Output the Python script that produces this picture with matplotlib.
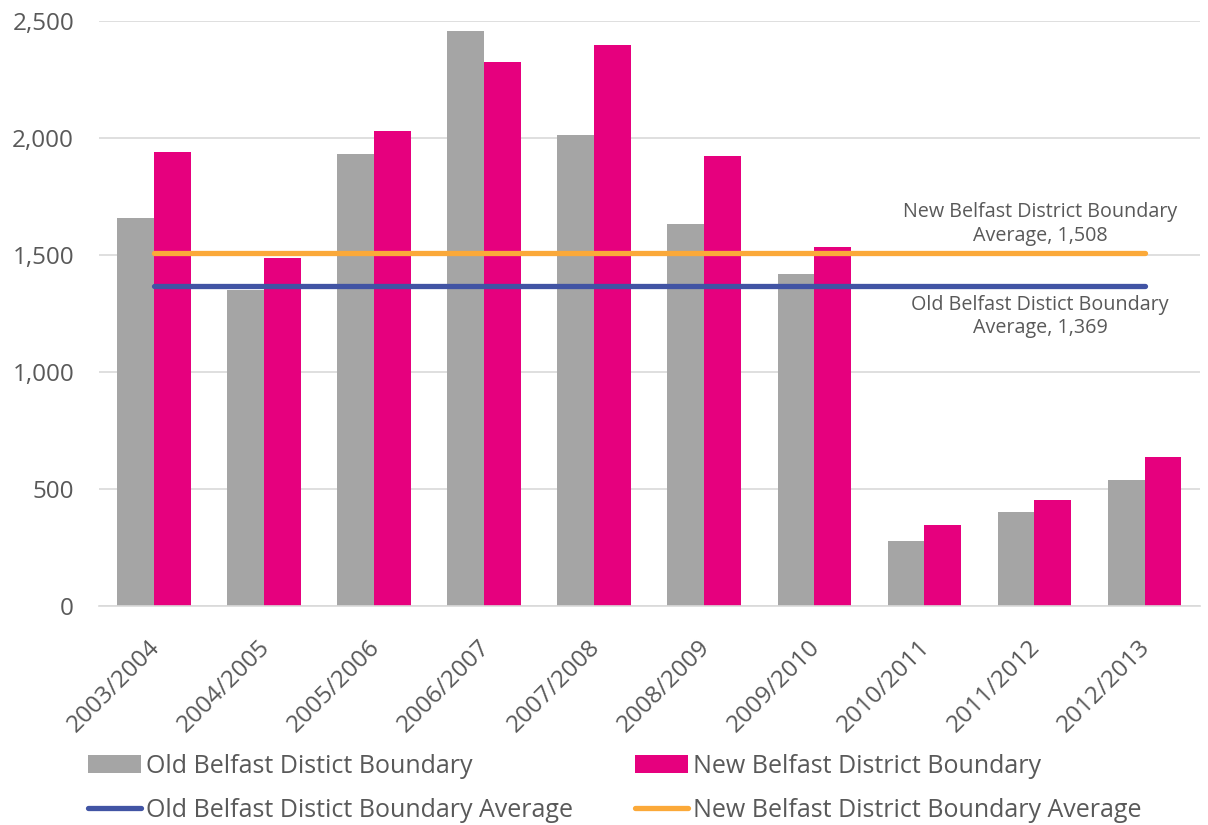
import numpy as np
import matplotlib.pyplot as plt
import matplotlib.transforms as mtransforms
from matplotlib.ticker import FuncFormatter

# data
years = ["2003/2004", "2004/2005", "2005/2006", "2006/2007", "2007/2008",
         "2008/2009", "2009/2010", "2010/2011", "2011/2012", "2012/2013"]
old_boundary = [1658, 1350, 1932, 2457, 2013, 1632, 1419, 278, 402, 538]
new_boundary = [1940, 1487, 2030, 2325, 2397, 1923, 1534, 346, 453, 637]
old_avg = 1369
new_avg = 1508

grey = "#A5A5A5"
pink = "#E6007E"
blue = "#4154A4"
orange = "#FBA939"
txt = "#595959"

plt.rcParams['font.family'] = ['Open Sans', 'DejaVu Sans']

fig = plt.figure(figsize=(12.08, 8.25), dpi=100)
ax = fig.add_axes([0.082, 0.2655, 0.911, 0.709])

x = np.arange(len(years))
w = 0.335
b_old = ax.bar(x - w/2, old_boundary, w, color=grey, zorder=2)
b_new = ax.bar(x + w/2, new_boundary, w, color=pink, zorder=2)
l_old, = ax.plot(x, [old_avg]*len(x), color=blue, lw=3.8, solid_capstyle='round', zorder=3)
l_new, = ax.plot(x, [new_avg]*len(x), color=orange, lw=3.8, solid_capstyle='round', zorder=3)

# data labels on the average lines
ax.text(8.05, new_avg + 125, "New Belfast District Boundary\nAverage, {:,}".format(new_avg),
        ha='center', va='center', fontsize=14.2, color=txt, linespacing=1.25)
ax.text(8.05, old_avg - 132, "Old Belfast Distict Boundary\nAverage, {:,}".format(old_avg),
        ha='center', va='center', fontsize=14.2, color=txt, linespacing=1.25)

ax.set_xlim(-0.5, len(years) - 0.5)
ax.set_ylim(0, 2500)
ax.set_yticks(range(0, 2501, 500))
ax.yaxis.set_major_formatter(FuncFormatter(lambda v, p: "{:,.0f}".format(v)))
ax.grid(axis='y', color="#D9D9D9", lw=1.2, zorder=0)
ax.set_axisbelow(True)
for s in ['top', 'right', 'left']:
    ax.spines[s].set_visible(False)
ax.spines['bottom'].set_color("#D9D9D9")
ax.spines['bottom'].set_linewidth(1.2)
ax.tick_params(length=0, colors=txt, labelsize=17.5)
ax.tick_params(axis='y', pad=18)
ax.tick_params(axis='x', pad=21)
ax.set_xticks(x)
ax.set_xticklabels(years, rotation=45, ha='right', rotation_mode='anchor')
shift = mtransforms.ScaledTranslation(-6/100, 0, fig.dpi_scale_trans)
for t in ax.get_xticklabels():
    t.set_transform(t.get_transform() + shift)

fig.legend([b_old, l_old, b_new, l_new],
           ["Old Belfast Distict Boundary", "Old Belfast Distict Boundary Average",
            "New Belfast District Boundary", "New Belfast District Boundary Average"],
           loc='lower left', bbox_to_anchor=(0.0545, -0.025), ncol=2, frameon=False,
           fontsize=18, labelcolor=txt, handlelength=2.1, handletextpad=0.2,
           columnspacing=2.5, labelspacing=0.77)

fig.savefig("out.png", dpi=100)
